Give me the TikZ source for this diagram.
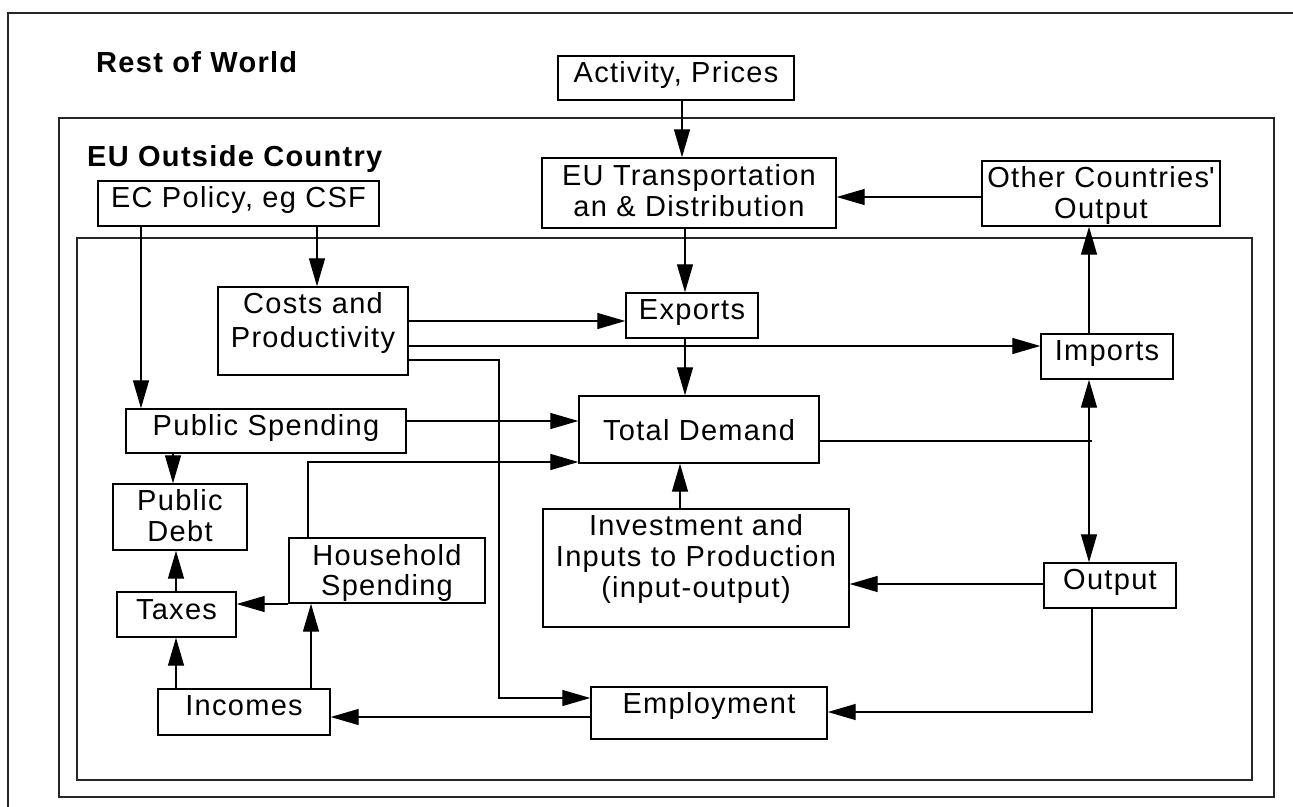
\documentclass[tikz,border=0pt]{standalone}
\usepackage{fontspec}
\setmainfont{Liberation Sans}[LetterSpace=4.5]
\usetikzlibrary{arrows.meta}
\newcommand\mlines[1]{\vtop{\halign{\hfil##\hfil\cr#1\crcr}}}
\begin{document}
\begin{tikzpicture}[x=1pt,y=-1pt,
  frame/.style={draw=black!85, line width=1.8pt},
  box/.style={draw, line width=1.4pt, inner sep=0pt, font=\fontsize{29}{31}\selectfont},
  title/.style={inner sep=0pt, anchor=base west, font=\fontsize{29}{31}\selectfont\bfseries},
  tip/.tip={Triangle[length=28pt,width=16pt]},
  arr/.style={line width=1.3pt, -tip},
  arrb/.style={line width=1.3pt, tip-tip},
  con/.style={line width=1.3pt}]
\useasboundingbox (0,0) rectangle (1293,806);
\fill[white] (0,0) rectangle (1293,806);
% frames
\draw[frame] (8,13) rectangle (1320,830);
\draw[frame] (59,118) rectangle (1274,797);
\draw[frame] (77,238) rectangle (1252,780);
% titles
\node[title] (row) at (96,72) {Rest of World};
\node[title] (euo) at (87,166) {EU Outside Country};
% boxes
\node[box, minimum width=236pt, minimum height=44pt, text height=8pt, text depth=0pt] (act) at (676,78) {Activity, Prices};
\node[box, minimum width=294pt, minimum height=70pt, text height=0pt, text depth=16pt] (tr) at (689,193) {\mlines{EU Transportation\cr an \& Distribution}};
\node[box, minimum width=238pt, minimum height=65pt, text height=0pt, text depth=13pt] (other) at (1101,193.5) {\mlines{Other Countries\textquotesingle\cr Output}};
\node[box, minimum width=281pt, minimum height=45pt, text height=7pt, text depth=0pt] (ec) at (238.5,203.5) {EC Policy, eg CSF};
\node[box, minimum width=190pt, minimum height=88pt, text height=0pt, text depth=36pt, font=\fontsize{29}{34}\selectfont] (costs) at (313,331) {\mlines{Costs and\cr Productivity}};
\node[box, minimum width=132pt, minimum height=45pt, text height=7pt, text depth=0pt] (exp) at (692,315.5) {Exports};
\node[box, minimum width=132pt, minimum height=45pt, text height=7pt, text depth=0pt] (imp) at (1107,356.5) {Imports};
\node[box, minimum width=280pt, minimum height=44pt, text height=8pt, text depth=0pt] (ps) at (266,431) {Public Spending};
\node[box, minimum width=240pt, minimum height=67pt, text height=21pt, text depth=0pt] (td) at (699,429.5) {Total Demand};
\node[box, minimum width=134pt, minimum height=66pt, text height=0pt, text depth=14pt] (debt) at (180,517) {\mlines{Public\cr Debt}};
\node[box, minimum width=196pt, minimum height=65pt, text height=0pt, text depth=11pt, font=\fontsize{29}{30}\selectfont] (hh) at (387,570.5) {\mlines{Household\cr Spending}};
\node[box, minimum width=306pt, minimum height=118pt, text height=0pt, text depth=66pt] (inv) at (696,568) {\mlines{Investment and\cr Inputs to Production\cr (input-output)}};
\node[box, minimum width=132pt, minimum height=45pt, text height=7pt, text depth=0pt] (out) at (1110,585.5) {Output};
\node[box, minimum width=119pt, minimum height=45pt, text height=9pt, text depth=0pt] (tax) at (176.5,614.5) {Taxes};
\node[box, minimum width=172pt, minimum height=46pt, text height=6pt, text depth=0pt] (inc) at (244,712) {Incomes};
\node[box, minimum width=236pt, minimum height=52pt, text height=0pt, text depth=0pt] (emp) at (709,713) {Employment};
% guide coordinates for connector columns and rows
\coordinate (xa) at (682,0);
\coordinate (xb) at (685,0);
\coordinate (xc) at (317,0);
\coordinate (xd) at (141,0);
\coordinate (xe) at (173,0);
\coordinate (xf) at (176,0);
\coordinate (xg) at (311,0);
\coordinate (xh) at (308,0);
\coordinate (xi) at (680,0);
\coordinate (xj) at (1089,0);
\coordinate (xk) at (1092,0);
\coordinate (xl) at (499,0);
\coordinate (ya) at (0,197);
\coordinate (yb) at (0,321);
\coordinate (yc) at (0,346);
\coordinate (yd) at (0,360);
\coordinate (ye) at (0,421);
\coordinate (yf) at (0,462);
\coordinate (yg) at (0,441);
\coordinate (yh) at (0,584);
\coordinate (yi) at (0,698);
\coordinate (yj) at (0,712);
\coordinate (yk) at (0,717);
\coordinate (yl) at (0,604);
% connectors
\draw[arr] (act.south -| xa) -- (tr.north -| xa);
\draw[arr] (other.west |- ya) -- (tr.east |- ya);
\draw[arr] (tr.south -| xb) -- (exp.north -| xb);
\draw[arr] (ec.south -| xc) -- (costs.north -| xc);
\draw[arr] (ec.south -| xd) -- (ps.north -| xd);
\draw[arr] (costs.east |- yb) -- (exp.west |- yb);
\draw[arr] (costs.east |- yc) -- (imp.west |- yc);
\draw[arr] (costs.east |- yd) -| (xl |- yi) -- (emp.west |- yi);
\draw[arr] (exp.south -| xb) -- (td.north -| xb);
\draw[arr] (ps.east |- ye) -- (td.west |- ye);
\draw[arr] (hh.north -| xh) |- (td.west |- yf);
\draw[arr] (inv.north -| xi) -- (td.south -| xi);
\draw[con] (td.east |- yg) -- (xk |- yg);
\draw[arrb] (imp.south -| xj) -- (out.north -| xj);
\draw[arr] (imp.north -| xj) -- (other.south -| xj);
\draw[arr] (out.west |- yh) -- (inv.east |- yh);
\draw[arr] (out.south -| xk) |- (emp.east |- yj);
\draw[arr] (emp.west |- yk) -- (inc.east |- yk);
\draw[arr] (inc.north -| xf) -- (tax.south -| xf);
\draw[arr] (inc.north -| xg) -- (hh.south -| xg);
\draw[arr] (hh.west |- yl) -- (tax.east |- yl);
\draw[arr] (tax.north -| xf) -- (debt.south -| xf);
\draw[arr] (ps.south -| xe) -- (debt.north -| xe);
\end{tikzpicture}
\end{document}
